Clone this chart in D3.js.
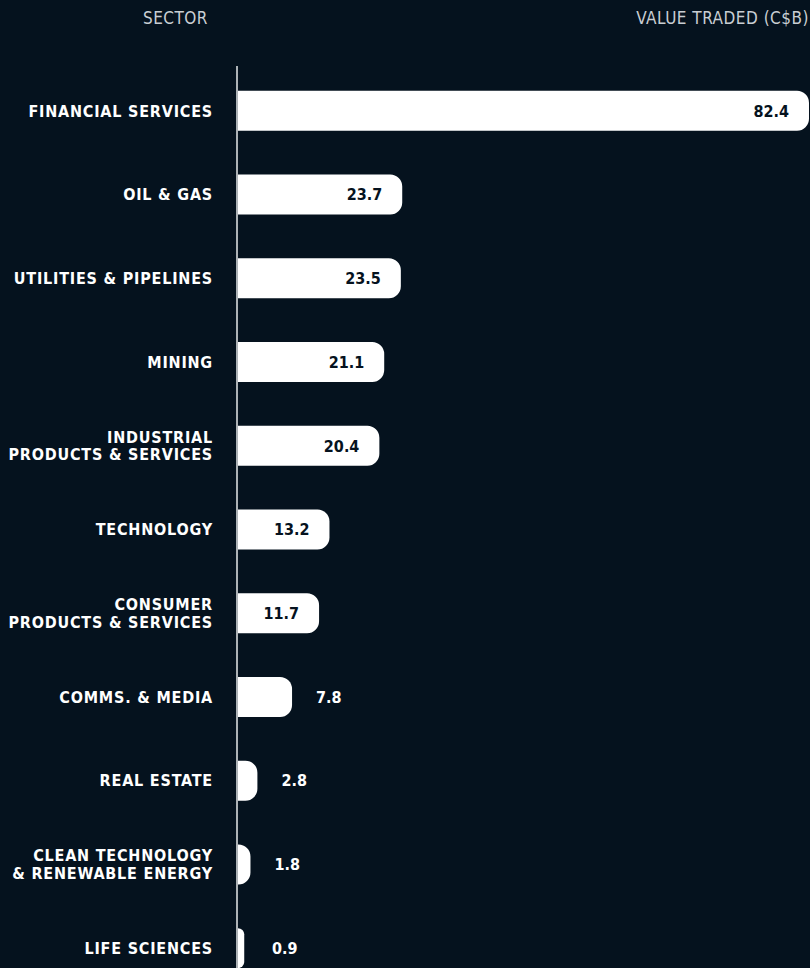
<!DOCTYPE html>
<html>
<head>
<meta charset="utf-8">
<script src="https://cdn.jsdelivr.net/npm/d3@7"></script>
<style>
  html, body { margin: 0; padding: 0; background: #05121e; }
  svg { display: block; }
</style>
</head>
<body>
<svg width="810" height="968"></svg>
<script>
var sectors = [
  "FINANCIAL SERVICES",
  "OIL & GAS",
  "UTILITIES & PIPELINES",
  "MINING",
  "INDUSTRIAL|PRODUCTS & SERVICES",
  "TECHNOLOGY",
  "CONSUMER|PRODUCTS & SERVICES",
  "COMMS. & MEDIA",
  "REAL ESTATE",
  "CLEAN TECHNOLOGY|& RENEWABLE ENERGY",
  "LIFE SCIENCES"
];
var values = [82.4, 23.7, 23.5, 21.1, 20.4, 13.2, 11.7, 7.8, 2.8, 1.8, 0.9];
var headers = ["SECTOR", "VALUE TRADED (C$B)"];

var svg = d3.select("svg"),
    width = +svg.attr("width"),
    height = +svg.attr("height");

var font = "'DejaVu Sans Condensed', 'DejaVu Sans', sans-serif";
var axis_x = 237;

var x = d3.scaleLinear().domain([0, d3.max(values)]).range([axis_x + 1, 809]);
var y = d3.scaleBand().domain(sectors).range([69, 990]).paddingInner(0.522).paddingOuter(0.261);

// headers
svg.append("text")
    .attr("x", 208).attr("y", 24)
    .attr("text-anchor", "end")
    .attr("fill", "#c9ced3")
    .style("font-family", font).style("font-size", "17px").style("letter-spacing", "0.5px")
    .text(headers[0]);
svg.append("text")
    .attr("x", 809).attr("y", 24)
    .attr("text-anchor", "end")
    .attr("fill", "#c9ced3")
    .style("font-family", font).style("font-size", "17px").style("letter-spacing", "0.5px")
    .text(headers[1]);

// bars with rounded right end
var r = 12;
function barPath(d, i) {
  var x0 = x(0), x1 = x(values[i]), y0 = y(d), h = y.bandwidth();
  var rr = Math.min(r, x1 - x0, h / 2);
  return "M" + x0 + "," + y0 +
         "H" + (x1 - rr) +
         "A" + rr + "," + rr + " 0 0 1 " + x1 + "," + (y0 + rr) +
         "V" + (y0 + h - rr) +
         "A" + rr + "," + rr + " 0 0 1 " + (x1 - rr) + "," + (y0 + h) +
         "H" + x0 + "Z";
}

svg.append("g")
  .selectAll("path")
  .data(sectors)
  .enter().append("path")
  .attr("d", barPath)
  .attr("fill", "#ffffff");

// axis line
svg.append("line")
    .attr("x1", axis_x).attr("x2", axis_x)
    .attr("y1", 66).attr("y2", height)
    .attr("stroke", "#e6e8ea")
    .attr("stroke-width", 1.5);

// sector labels (one text per line)
var lh = 17.5;
var label_g = svg.append("g");
sectors.forEach(function(d) {
  var lines = d.split("|");
  var cy = y(d) + y.bandwidth() / 2;
  lines.forEach(function(l, j) {
    label_g.append("text")
      .attr("x", 213)
      .attr("y", cy + (j - (lines.length - 1) / 2) * lh)
      .attr("dy", "0.36em")
      .attr("text-anchor", "end")
      .attr("fill", "#ffffff")
      .style("font-family", font).style("font-size", "16px")
      .style("font-weight", "bold").style("letter-spacing", "0.8px")
      .text(l);
  });
});

// value labels
svg.append("g")
  .selectAll("text")
  .data(values)
  .enter().append("text")
  .attr("x", function(d) { return d >= 10 ? x(d) - 20 : Math.max(x(d) + 24, 272); })
  .attr("y", function(d, i) { return y(sectors[i]) + y.bandwidth() / 2; })
  .attr("dy", "0.36em")
  .attr("text-anchor", function(d) { return d >= 10 ? "end" : "start"; })
  .attr("fill", function(d) { return d >= 10 ? "#05121e" : "#ffffff"; })
  .style("font-family", font).style("font-size", "16px").style("font-weight", "bold")
  .text(function(d) { return d.toFixed(1); });
</script>
</body>
</html>
